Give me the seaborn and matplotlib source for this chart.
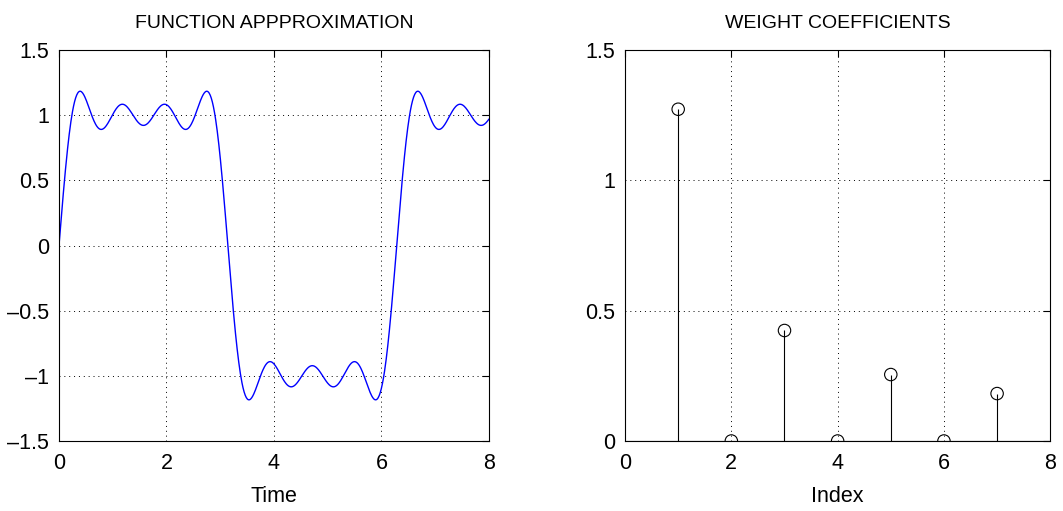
import numpy as np
import pandas as pd
import seaborn as sns
import matplotlib.pyplot as plt

# weight coefficients
index = [1, 2, 3, 4, 5, 6, 7]
weights = [1.273, 0.0, 0.424, 0.0, 0.255, 0.0, 0.182]

# the left curve is the sine series built from those weights
t = np.linspace(0, 8, 800)
approx = sum(w * np.sin(k * t) for k, w in zip(index, weights))
df_curve = pd.DataFrame({'Time': t, 'y': approx})
df_w = pd.DataFrame({'Index': index, 'w': weights})

sns.set_style('white')
plt.rcParams['font.family'] = ['Liberation Sans', 'DejaVu Sans']
plt.rcParams['font.size'] = 15.5
plt.rcParams['text.color'] = 'black'
plt.rcParams['axes.labelcolor'] = 'black'
plt.rcParams['xtick.direction'] = 'in'
plt.rcParams['ytick.direction'] = 'in'

fig = plt.figure(figsize=(10.63, 5.11), dpi=100)
ax1 = fig.add_axes([0.0555, 0.137, 0.4045, 0.765])
ax2 = fig.add_axes([0.588, 0.137, 0.400, 0.765])

sns.lineplot(data=df_curve, x='Time', y='y', color='blue', linewidth=1, ax=ax1)
ax1.set_xlim(0, 8)
ax1.set_ylim(-1.5, 1.5)
ax1.set_xticks([0, 2, 4, 6, 8])
ax1.set_yticks([-1.5, -1, -0.5, 0, 0.5, 1, 1.5])
ax1.set_yticklabels(['–1.5', '–1', '–0.5', '0', '0.5', '1', '1.5'])
ax1.set_title('FUNCTION APPPROXIMATION', fontsize=14, color='black', pad=16)
ax1.set_xlabel('Time')
ax1.set_ylabel('')

ax2.vlines(df_w['Index'], 0, df_w['w'], color='black', linewidth=0.8)
ax2.axhline(0, color='black', linewidth=0.8)
sns.scatterplot(data=df_w, x='Index', y='w', marker='o', s=80,
                facecolor='none', edgecolor='black', linewidth=0.8, ax=ax2)
ax2.set_xlim(0, 8)
ax2.set_ylim(0, 1.5)
ax2.set_xticks([0, 2, 4, 6, 8])
ax2.set_yticks([0, 0.5, 1, 1.5])
ax2.set_yticklabels(['0', '0.5', '1', '1.5'])
ax2.set_title('WEIGHT COEFFICIENTS', fontsize=14, color='black', pad=16)
ax2.set_xlabel('Index')
ax2.set_ylabel('')

for ax in (ax1, ax2):
    ax.grid(True, linestyle=(0, (1, 4)), color='black', linewidth=0.7)
    for s in ax.spines.values():
        s.set_color('black')
        s.set_linewidth(0.8)
    ax.tick_params(length=5, width=0.8, colors='black', top=True, right=True,
                   labelsize=15.5)
    ax.tick_params(axis='x', pad=9)
    ax.tick_params(axis='y', pad=7)
    ax.xaxis.labelpad = 8

fig.savefig('out.png', dpi=100)
